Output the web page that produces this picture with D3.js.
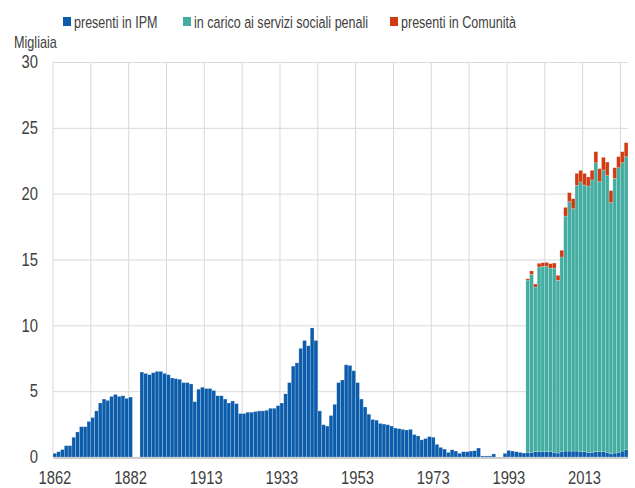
<!DOCTYPE html>
<html><head><meta charset="utf-8">
<script src="https://cdn.jsdelivr.net/npm/d3@7"></script>
<style>
body{margin:0;background:#fff;}
text{font-family:"Liberation Sans",Arial,sans-serif;fill:#404040;}
</style></head><body>
<svg id="c" width="635" height="488"></svg>
<script>
// categories (years on the category axis; 1883-1893 not present)
const years = [1862,1863,1864,1865,1866,1867,1868,1869,1870,1871,1872,1873,1874,1875,1876,1877,1878,1879,1880,1881,1882,
1894,1895,1896,1897,1898,1899,1900,1901,1902,1903,1904,1905,1906,1907,1908,1909,1910,1911,1912,1913,
1914,1915,1916,1917,1918,1919,1920,1921,1922,1923,1924,1925,1926,1927,1928,1929,1930,1931,1932,1933,
1934,1935,1936,1937,1938,1939,1940,1941,1942,1943,1944,1945,1946,1947,1948,1949,1950,1951,1952,1953,
1954,1955,1956,1957,1958,1959,1960,1961,1962,1963,1964,1965,1966,1967,1968,1969,1970,1971,1972,1973,
1974,1975,1976,1977,1978,1979,1980,1981,1982,1983,1984,1985,1986,1987,1988,1989,1990,1991,1992,1993,
1994,1995,1996,1997,1998,1999,2000,2001,2002,2003,2004,2005,2006,2007,2008,2009,2010,2011,2012,2013,
2014,2015,2016,2017,2018,2019,2020,2021,2022,2023,2024];
// presenti in IPM (thousands)
const ipm = [0.28,0.40,0.56,0.86,0.86,1.5,1.9,2.3,2.3,2.7,3.0,3.5,4.1,4.4,4.3,4.6,4.75,4.6,4.65,4.45,4.55,
null,null,6.45,6.35,6.25,6.4,6.5,6.5,6.35,6.25,6.0,5.95,5.9,5.65,5.65,5.55,4.2,5.15,5.3,5.2,
5.2,5.05,4.65,4.65,4.4,4.1,4.25,4.05,3.3,3.3,3.4,3.4,3.45,3.5,3.5,3.55,3.7,3.7,3.9,4.1,
4.8,5.65,6.9,7.15,8.25,8.85,8.45,9.8,8.85,3.5,2.45,2.35,3.15,4.0,5.65,5.85,7.0,6.95,6.55,5.65,
4.4,3.8,3.25,2.85,2.8,2.55,2.5,2.45,2.35,2.2,2.15,2.1,2.05,2.1,1.7,1.6,1.3,1.4,1.55,1.5,
0.96,0.73,0.6,0.35,0.55,0.45,0.28,0.4,0.4,0.45,0.48,0.68,0.08,0.08,0.08,0.23,null,null,0.28,0.5,
0.45,0.4,0.35,0.3,0.35,0.35,0.4,0.4,0.4,0.4,0.4,0.35,0.3,0.4,0.45,0.45,0.45,0.45,0.4,0.4,
0.35,0.35,0.4,0.4,0.4,0.35,0.25,0.3,0.35,0.45,0.55];
// years with data on social services and communities
const recentYears = [1998,1999,2000,2001,2002,2003,2004,2005,2006,2007,2008,2009,2010,2011,2012,2013,2014,2015,2016,2017,2018,2019,2020,2021,2022,2023,2024];
const servizi = [13.09,13.52,12.51,14.03,14.08,14.1,13.95,14.0,13.12,14.79,17.85,18.94,18.41,20.18,20.49,20.26,20.23,20.69,21.95,20.51,21.4,21.02,19.07,20.86,21.62,21.9,22.26];
const comunita = [0.1,0.26,0.23,0.28,0.28,0.28,0.33,0.38,0.38,0.51,0.66,0.69,0.76,0.91,0.88,0.88,0.69,0.73,0.84,0.99,0.96,1.03,0.91,0.81,0.84,0.84,1.06];
const tickLabels = ["1862","1882","1913","1933","1953","1973","1993","2013"];
const yTicks = [0,5,10,15,20,25,30];
const seriesNames = ["presenti in IPM","in carico ai servizi sociali penali","presenti in Comunità"];
const colors = ["#0b5cab","#42ada0","#cf3b12"];

const svg = d3.select("#c");
const L = 53, R = 628, T = 62, B = 457;
const cats = years.map(String);
const x = d3.scaleBand().domain(cats).range([L, R]).padding(0);
const y = d3.scaleLinear().domain([0, 30]).range([B, T]);

const table = years.map((yr, i) => {
  const j = recentYears.indexOf(yr);
  return {cat: String(yr), ipm: ipm[i] || 0, servizi: j >= 0 ? servizi[j] : 0, comunita: j >= 0 ? comunita[j] : 0};
});
const keys = ["ipm","servizi","comunita"];
const stack = d3.stack().keys(keys)(table);

// condense text (emulates a narrow typeface)
function narrow(sel, k) {
  sel.each(function() {
    const len = this.getComputedTextLength();
    d3.select(this).attr("textLength", len * (k || 0.82)).attr("lengthAdjust", "spacingAndGlyphs");
  });
}

// horizontal gridlines via axis
const yAxis = svg.append("g").attr("transform", `translate(${L},0)`)
  .call(d3.axisLeft(y).tickValues(yTicks).tickSize(-(R - L)).tickPadding(15).tickFormat(d3.format("d")));
yAxis.select(".domain").remove();
yAxis.selectAll(".tick line").attr("stroke", "#d9d9d9").attr("stroke-width", 1);
yAxis.selectAll(".tick text").attr("font-size", 18).attr("fill", "#404040")
  .style("font-family", '"Liberation Sans",Arial,sans-serif').call(narrow);

// vertical gridlines every 10 categories
const vIdx = d3.range(0, cats.length, 10);
svg.append("g").selectAll("line").data(vIdx).join("line")
  .attr("x1", i => x(cats[i])).attr("x2", i => x(cats[i]))
  .attr("y1", T).attr("y2", B).attr("stroke", "#d9d9d9").attr("stroke-width", 1);

// bars
svg.append("g").selectAll("g").data(stack).join("g")
  .attr("fill", (d, i) => colors[i])
  .selectAll("rect").data(d => d.filter(p => p[1] - p[0] > 0)).join("rect")
  .attr("x", d => x(d.data.cat)).attr("width", x.bandwidth())
  .attr("y", d => y(d[1])).attr("height", d => y(d[0]) - y(d[1]))
  .attr("stroke", "rgba(255,255,255,0.35)").attr("stroke-width", 0.6);

// x axis baseline
svg.append("line").attr("x1", L).attr("x2", R).attr("y1", B + 1).attr("y2", B + 1)
  .attr("stroke", "#cccccc").attr("stroke-width", 2);

const xAxis = svg.append("g").attr("transform", `translate(0,${B})`)
  .call(d3.axisBottom(x).tickValues(tickLabels).tickSize(0).tickPadding(14));
xAxis.select(".domain").remove();
xAxis.selectAll(".tick text").attr("font-size", 18).attr("fill", "#404040")
  .style("font-family", '"Liberation Sans",Arial,sans-serif').call(narrow);

// unit label
svg.append("text").attr("transform", "translate(14,48) scale(0.79,1)").attr("font-size", 16).text("Migliaia");

// legend
const legX = [63, 183, 390];
const leg = svg.append("g");
seriesNames.forEach((n, i) => {
  leg.append("rect").attr("x", legX[i]).attr("y", 17).attr("width", 8).attr("height", 9).attr("fill", colors[i]);
  leg.append("text").attr("transform", `translate(${legX[i] + 11},28) scale(0.76,1)`)
    .attr("font-size", 16.5).text(n);
});
</script></body></html>
